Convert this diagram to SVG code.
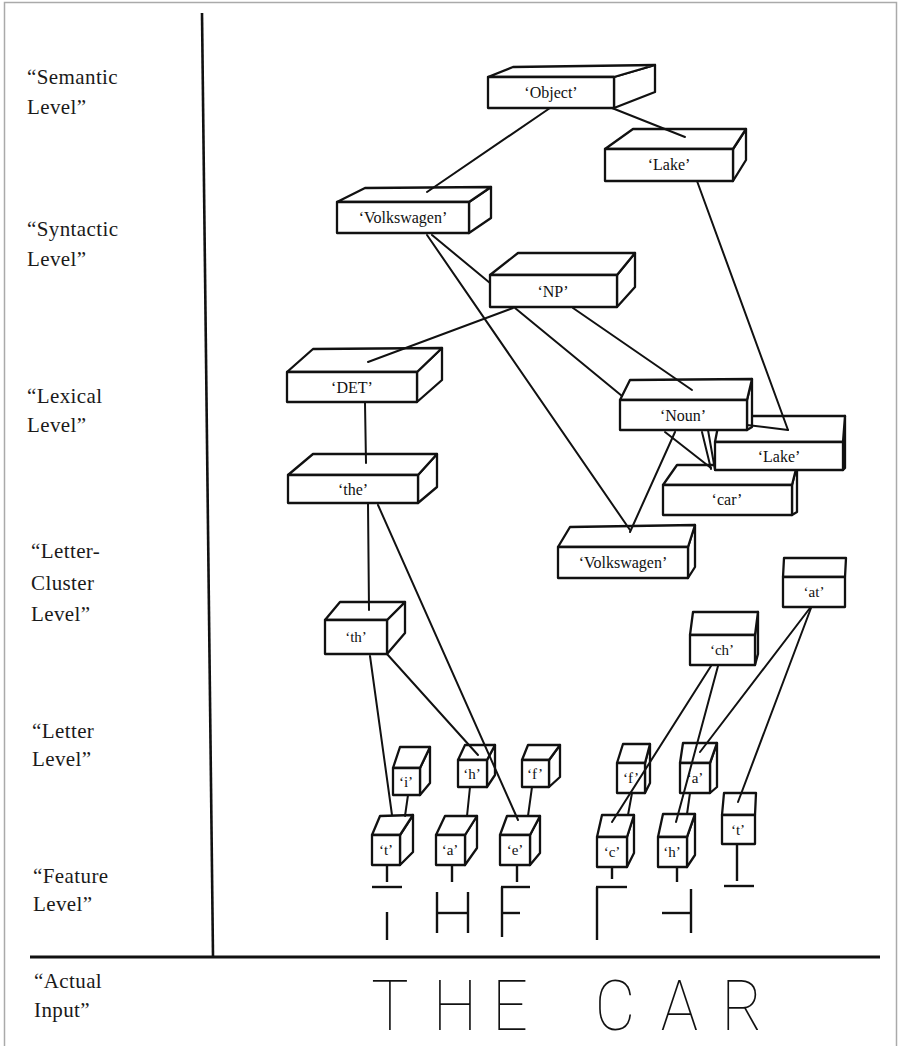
<svg xmlns="http://www.w3.org/2000/svg" width="900" height="1046" viewBox="0 0 900 1046">
<style>
.lvl{font-family:"Liberation Serif","Times New Roman",serif;font-size:21px;fill:#1a1a1a;letter-spacing:0.4px}
.bx polygon,.bx rect{fill:#fff;stroke:#111;stroke-width:2.3;stroke-linejoin:round}
.bx text{font-family:"Liberation Serif","Times New Roman",serif;font-size:16px;fill:#111;text-anchor:middle}
.sm text{font-size:15px}
.cn line{stroke:#111;stroke-width:2;stroke-linecap:round}
.ft line{stroke:#111;stroke-width:2.4;stroke-linecap:butt}
.inp{font-family:Roboto,"DejaVu Sans",sans-serif;font-weight:100;font-size:71px;fill:#111;text-anchor:middle}
</style>
<rect x="4.5" y="2.5" width="892" height="1050" fill="#fff" stroke="#aaa" stroke-width="1.5"/>
<g id="axes">
<line x1="202" y1="13" x2="213" y2="956" stroke="#111" stroke-width="2.6"/>
<line x1="30" y1="957" x2="880" y2="957" stroke="#111" stroke-width="3"/>
</g>
<g id="level-labels">
<text class="lvl" x="27" y="84">“Semantic</text><text class="lvl" x="27" y="114">Level”</text>
<text class="lvl" x="27" y="236">“Syntactic</text><text class="lvl" x="27" y="266">Level”</text>
<text class="lvl" x="27" y="403">“Lexical</text><text class="lvl" x="27" y="432">Level”</text>
<text class="lvl" x="31" y="558">“Letter-</text><text class="lvl" x="31" y="590">Cluster</text><text class="lvl" x="31" y="621">Level”</text>
<text class="lvl" x="32" y="738">“Letter</text><text class="lvl" x="32" y="766">Level”</text>
<text class="lvl" x="33" y="883">“Feature</text><text class="lvl" x="33" y="911">Level”</text>
<text class="lvl" x="34" y="988">“Actual</text><text class="lvl" x="34" y="1017">Input”</text>
</g>
<g id="n-object" class="bx"><polygon points="614,77 655,65 655,92 614,108"/><polygon points="488,77 513,67 655,65 614,77"/><rect x="488" y="77" width="126" height="31"/><text x="551" y="98">‘Object’</text></g>
<g id="n-lake-sem" class="bx"><polygon points="733,149 746,129 746,160 733,181"/><polygon points="605,149 633,129 746,129 733,149"/><rect x="605" y="149" width="128" height="32"/><text x="669" y="170">‘Lake’</text></g>
<g id="n-vw-syn" class="bx"><polygon points="469,202 491,187 491,218 469,233"/><polygon points="337,202 365,188 491,187 469,202"/><rect x="337" y="202" width="132" height="31"/><text x="403" y="223">‘Volkswagen’</text></g>
<g id="n-np" class="bx"><polygon points="617,275 635,253 635,287 617,307"/><polygon points="490,275 518,253 635,253 617,275"/><rect x="490" y="275" width="127" height="32"/><text x="553" y="297">‘NP’</text></g>
<g id="n-det" class="bx"><polygon points="417,372 442,348 442,380 417,402"/><polygon points="287,372 313,349 442,348 417,372"/><rect x="287" y="372" width="130" height="30"/><text x="352" y="393">‘DET’</text></g>
<g id="n-the" class="bx"><polygon points="418,475 437,454 437,487 418,503"/><polygon points="288,475 313,454 437,454 418,475"/><rect x="288" y="475" width="130" height="28"/><text x="353" y="495">‘the’</text></g>
<g id="n-car" class="bx"><polygon points="792,485 797,465 797,512 792,515"/><polygon points="663,485 677,465 797,465 792,485"/><rect x="663" y="485" width="129" height="30"/><text x="727" y="505">‘car’</text></g>
<g id="n-lake-lex" class="bx"><polygon points="843,442 845,416 845,468 843,470"/><polygon points="715,442 720,416 845,416 843,442"/><rect x="715" y="442" width="128" height="28"/><text x="779" y="462">‘Lake’</text></g>
<g id="n-noun" class="bx"><polygon points="747,400 752,379 752,427 747,430"/><polygon points="620,400 630,380 752,379 747,400"/><rect x="620" y="400" width="127" height="30"/><text x="683" y="421">‘Noun’</text></g>
<g id="n-vw-lex" class="bx"><polygon points="688,547 695,525 695,567 688,578"/><polygon points="558,547 570,527 695,525 688,547"/><rect x="558" y="547" width="130" height="31"/><text x="623" y="568">‘Volkswagen’</text></g>
<g id="n-th" class="bx sm"><polygon points="387,620 405,602 405,633 387,654"/><polygon points="325,620 340,602 405,602 387,620"/><rect x="325" y="620" width="62" height="34"/><text x="356" y="642">‘th’</text></g>
<g id="n-ch" class="bx sm"><polygon points="755,635 758,612 758,654 755,665"/><polygon points="690,635 693,612 758,612 755,635"/><rect x="690" y="635" width="65" height="30"/><text x="722" y="655">‘ch’</text></g>
<g id="n-at" class="bx sm"><polygon points="783,577 784,558 846,558 845,577"/><rect x="783" y="577" width="62" height="30"/><text x="814" y="597">‘at’</text></g>
<g id="n-i" class="bx sm"><polygon points="420,768 430,747 430,783 420,795"/><polygon points="393,768 400,747 430,747 420,768"/><rect x="393" y="768" width="27" height="27"/><text x="406" y="787">‘i’</text></g>
<g id="n-h1" class="bx sm"><polygon points="487,760 495,745 495,775 487,787"/><polygon points="458,760 465,745 495,745 487,760"/><rect x="458" y="760" width="29" height="27"/><text x="472" y="779">‘h’</text></g>
<g id="n-f1" class="bx sm"><polygon points="549,760 560,745 560,777 549,787"/><polygon points="522,760 528,745 560,745 549,760"/><rect x="522" y="760" width="27" height="27"/><text x="535" y="779">‘f’</text></g>
<g id="n-f2" class="bx sm"><polygon points="645,763 650,744 650,783 645,793"/><polygon points="617,763 623,744 650,744 645,763"/><rect x="617" y="763" width="28" height="30"/><text x="631" y="783">‘f’</text></g>
<g id="n-a2" class="bx sm"><polygon points="710,763 717,743 717,787 710,793"/><polygon points="680,763 683,743 717,743 710,763"/><rect x="680" y="763" width="30" height="30"/><text x="695" y="783">‘a’</text></g>
<g id="n-t1" class="bx sm"><polygon points="400,835 413,815 413,852 400,865"/><polygon points="372,835 380,816 413,815 400,835"/><rect x="372" y="835" width="28" height="30"/><text x="386" y="855">‘t’</text></g>
<g id="n-a1" class="bx sm"><polygon points="465,835 477,816 477,848 465,865"/><polygon points="436,835 445,816 477,816 465,835"/><rect x="436" y="835" width="29" height="30"/><text x="450" y="855">‘a’</text></g>
<g id="n-e" class="bx sm"><polygon points="530,835 540,816 540,853 530,865"/><polygon points="500,835 507,816 540,816 530,835"/><rect x="500" y="835" width="30" height="30"/><text x="515" y="855">‘e’</text></g>
<g id="n-c" class="bx sm"><polygon points="627,837 634,815 634,853 627,867"/><polygon points="597,837 602,815 634,815 627,837"/><rect x="597" y="837" width="30" height="30"/><text x="612" y="857">‘c’</text></g>
<g id="n-h2" class="bx sm"><polygon points="687,837 695,814 695,855 687,867"/><polygon points="658,837 663,814 695,814 687,837"/><rect x="658" y="837" width="29" height="30"/><text x="672" y="857">‘h’</text></g>
<g id="n-t2" class="bx sm"><polygon points="722,815 724,793 756,793 755,815"/><rect x="722" y="815" width="33" height="29"/><text x="738" y="835">‘t’</text></g>
<g id="connectors" class="cn">
<line x1="550" y1="108" x2="427" y2="192"/>
<line x1="612" y1="108" x2="685" y2="137"/>
<line x1="697" y1="181" x2="788" y2="430"/>
<line x1="747" y1="425" x2="788" y2="430"/>
<line x1="432" y1="235" x2="490" y2="283"/>
<line x1="427" y1="235" x2="630" y2="530"/>
<line x1="513" y1="308" x2="368" y2="362"/>
<line x1="515" y1="308" x2="622" y2="396"/>
<line x1="573" y1="308" x2="692" y2="390"/>
<line x1="365" y1="403" x2="366" y2="463"/>
<line x1="675" y1="432" x2="630" y2="532"/>
<line x1="665" y1="432" x2="711" y2="468"/>
<line x1="702" y1="432" x2="711" y2="469"/>
<line x1="708" y1="430" x2="715" y2="470"/>
<line x1="368" y1="503" x2="369" y2="610"/>
<line x1="378" y1="505" x2="518" y2="820"/>
<line x1="370" y1="656" x2="392" y2="815"/>
<line x1="387" y1="654" x2="478" y2="755"/>
<line x1="711" y1="666" x2="612" y2="822"/>
<line x1="718" y1="666" x2="676" y2="822"/>
<line x1="810" y1="608" x2="700" y2="752"/>
<line x1="811" y1="608" x2="738" y2="802"/>
<line x1="408" y1="795" x2="405" y2="816"/>
<line x1="470" y1="787" x2="467" y2="816"/>
<line x1="532" y1="787" x2="528" y2="816"/>
<line x1="632" y1="793" x2="628" y2="815"/>
<line x1="690" y1="793" x2="687" y2="814"/>
</g>
<g id="features" class="ft">
<line x1="387" y1="865" x2="387" y2="882"/><line x1="372" y1="887" x2="402" y2="887"/><line x1="387" y1="912" x2="387" y2="940"/>
<line x1="452" y1="865" x2="452" y2="882"/><line x1="437" y1="892" x2="437" y2="933"/><line x1="468" y1="892" x2="468" y2="933"/><line x1="437" y1="913" x2="468" y2="913"/>
<line x1="517" y1="865" x2="517" y2="882"/><line x1="502" y1="887" x2="502" y2="937"/><line x1="501" y1="887" x2="530" y2="887"/><line x1="502" y1="913" x2="520" y2="913"/>
<line x1="612" y1="867" x2="612" y2="879"/><line x1="597" y1="887" x2="597" y2="940"/><line x1="596" y1="887" x2="627" y2="887"/>
<line x1="677" y1="867" x2="677" y2="882"/><line x1="691" y1="889" x2="691" y2="933"/><line x1="662" y1="913" x2="691" y2="913"/>
<line x1="737" y1="844" x2="737" y2="881"/><line x1="724" y1="886" x2="754" y2="886"/>
</g>
<g id="actual-input">
<text class="inp" transform="scale(0.88 1)" y="1030"><tspan x="443">T</tspan><tspan x="517">H</tspan><tspan x="588">E</tspan> <tspan x="699">C</tspan><tspan x="772">A</tspan><tspan x="843">R</tspan></text>
</g>
</svg>
